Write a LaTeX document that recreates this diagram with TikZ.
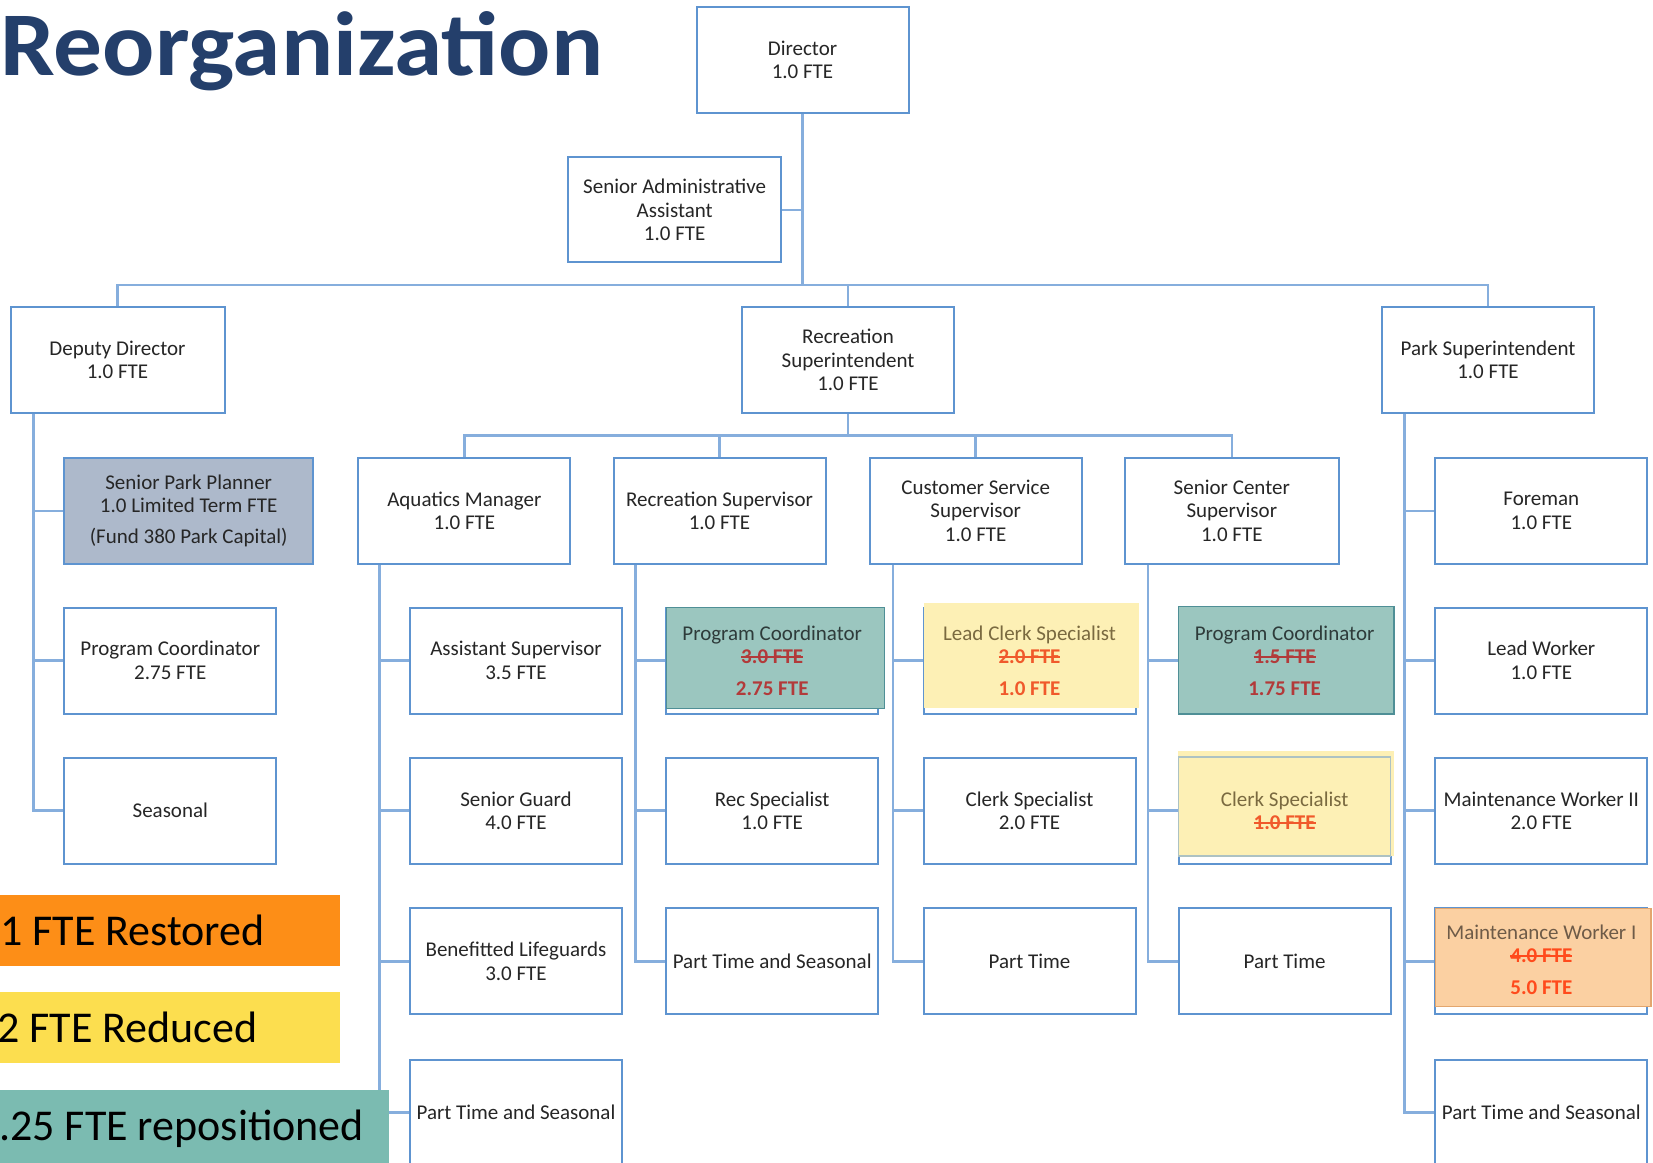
\documentclass[tikz,border=0pt]{standalone}
\usepackage{fontspec}
\setmainfont{Carlito}
\newfontfamily\titlefont[FakeStretch=1.07]{Carlito}
\usetikzlibrary{calc}
\definecolor{titlec}{HTML}{243F6B}
\definecolor{bordc}{HTML}{5E94D0}
\definecolor{connc}{HTML}{86AEDD}
\definecolor{txtc}{HTML}{262626}
\definecolor{sppfill}{HTML}{ADB9CB}
\definecolor{tealfill}{HTML}{9BC6BF}
\definecolor{tealbord}{HTML}{4F8F96}
\definecolor{tealtxt}{HTML}{2E3B3A}
\definecolor{tealred}{HTML}{B23A3A}
\definecolor{yelfill}{HTML}{FDF0B5}
\definecolor{yeltxt}{HTML}{7A6A40}
\definecolor{yelred}{HTML}{F0592B}
\definecolor{orfill}{HTML}{FBD0A2}
\definecolor{orbord}{HTML}{E3A66E}
\definecolor{ortxt}{HTML}{6E5B48}
\definecolor{orred}{HTML}{FF4A1C}
\definecolor{legor}{HTML}{FD8E17}
\definecolor{legyel}{HTML}{FCDE4F}
\definecolor{legteal}{HTML}{7BBBB1}
\newcommand\strk[1]{\setbox0=\hbox{#1}\leavevmode\rlap{\vrule height 0.36em depth -0.27em width \wd0}\box0}
\newcommand\boxfont{\fontsize{21}{23.5}\selectfont}
\pgfdeclarelayer{bg}
\pgfsetlayers{bg,main}
\tikzset{
  box/.style={draw=bordc, line width=2pt, fill=white, minimum width=212pt, minimum height=106pt,
    inner sep=0pt, align=center, text=txtc, font=\boxfont},
  lbl/.style={align=center, text=txtc, font=\boxfont, inner sep=0pt},
  conn/.style={draw=connc, line width=2.6pt},
  legbox/.style={anchor=north west, inner sep=0pt, minimum width=339.5pt, minimum height=71pt},
  legtext/.style={anchor=base west, inner sep=0pt, text=black, font=\fontsize{44}{48}\selectfont},
}
\begin{document}
\begin{tikzpicture}[x=1pt,y=-1pt]
\useasboundingbox (0,0) rectangle (1653,1162);
\clip (0,0) rectangle (1653,1162);

% title
\node[anchor=base west, inner sep=0pt, text=titlec, font=\titlefont\fontsize{91}{91}\selectfont\bfseries] (title) at (0,75) {Reorganization};

% top level
\node[box] (dir) at (802.5,60.1) {Director\\1.0 FTE};
\node[box, minimum width=213pt, minimum height=105pt] (saa) at (674.7,209.8) {Senior Administrative\\Assistant\\1.0 FTE};
\node[box, minimum width=214pt] (dd) at (117.5,360) {Deputy Director\\1.0 FTE};
\node[box] (rs) at (848,360) {Recreation\\Superintendent\\1.0 FTE};
\node[box] (ps) at (1488,360) {Park Superintendent\\1.0 FTE};

% row 1
\node[box, fill=sppfill, minimum width=249pt] (spp) at (188.7,510.8) {Senior Park Planner\\1.0 Limited Term FTE\\[7pt](Fund 380 Park Capital)};
\node[box] (am) at (464.4,510.8) {Aquatics Manager\\1.0 FTE};
\node[box] (rsv) at (719.5,510.8) {Recreation Supervisor\\1.0 FTE};
\node[box] (css) at (975.7,510.8) {Customer Service\\Supervisor\\1.0 FTE};
\node[box, minimum width=214pt] (scs) at (1231.8,510.8) {Senior Center\\Supervisor\\1.0 FTE};
\node[box] (fm) at (1541.3,510.8) {Foreman\\1.0 FTE};

% row 2
\node[box] (pcd) at (170.3,660.5) {Program Coordinator\\2.75 FTE};
\node[box] (asup) at (516,660.5) {Assistant Supervisor\\3.5 FTE};
\node[box] (pcr) at (772.2,660.5) {};
\node[box] (lcs) at (1029.5,660.5) {};
\node[box] (pcs) at (1284.6,660.5) {};
\node[box] (lw) at (1541.3,660.5) {Lead Worker\\1.0 FTE};

% row 3
\node[box] (seas) at (170.3,810.7) {Seasonal};
\node[box] (sg) at (516,810.7) {Senior Guard\\4.0 FTE};
\node[box] (rsp) at (772.2,810.7) {Rec Specialist\\1.0 FTE};
\node[box] (cls) at (1029.5,810.7) {Clerk Specialist\\2.0 FTE};
\node[box] (cls2) at (1284.6,810.7) {};
\node[box] (mw2) at (1541.3,810.7) {Maintenance Worker II\\2.0 FTE};

% row 4
\node[box] (bl) at (516,961.4) {Benefitted Lifeguards\\3.0 FTE};
\node[box] (ptr) at (772.2,961.4) {Part Time and Seasonal};
\node[box] (ptc) at (1029.5,961.4) {Part Time};
\node[box] (pts) at (1284.6,961.4) {Part Time};
\node[box] (mw1) at (1541.3,961.4) {};

% row 5
\node[box] (pta) at (516,1112.5) {Part Time and Seasonal};
\node[box] (ptp) at (1541.3,1112.5) {Part Time and Seasonal};

% highlight overlays
\fill[tealfill, draw=tealbord, line width=1.2pt] (666.3,607.2) rectangle (884.5,708.4);
\node[lbl] (pcrt) at (pcr) {{\color{tealtxt}Program Coordinator}\\{\color{tealred}\bfseries\strk{3.0 FTE}}\\[8pt]{\color{tealred}\bfseries 2.75 FTE}};
\fill[yelfill] (923.5,603) rectangle (1138.5,708.4);
\node[lbl] (lcst) at (lcs) {{\color{yeltxt}Lead Clerk Specialist}\\{\color{yelred}\bfseries\strk{2.0 FTE}}\\[8pt]{\color{yelred}\bfseries 1.0 FTE}};
\fill[tealfill, draw=tealbord, line width=1.6pt] (1178.6,606.5) rectangle (1393.7,713.7);
\node[lbl] (pcst) at (pcs) {{\color{tealtxt}Program Coordinator}\\{\color{tealred}\bfseries\strk{1.5 FTE}}\\[8pt]{\color{tealred}\bfseries 1.75 FTE}};
\fill[yelfill] (1177.5,750.6) rectangle (1393.7,856);
\draw[bordc!50!yelfill, line width=1.2pt] (1178.6,756.9) rectangle (1390.5,856);
\node[lbl] (cls2t) at (cls2) {{\color{yeltxt}Clerk Specialist}\\{\color{yelred}\bfseries\strk{1.0 FTE}}};
\fill[orfill, draw=orbord, line width=1.2pt] (1435.8,908.7) rectangle (1650.9,1006.8);
\node[lbl] (mw1t) at ($(mw1)+(0,-2)$) {{\color{ortxt}Maintenance Worker I}\\{\color{orred}\bfseries\strk{4.0 FTE}}\\[8pt]{\color{orred}\bfseries 5.0 FTE}};

% connectors
\coordinate (bus) at (0,285);
\coordinate (rbus) at (0,435.4);
\coordinate (ddv) at (33.7,413.2);
\coordinate (amv) at (379.5,564);
\coordinate (rsvv) at (635.7,564);
\coordinate (cssv) at (892.9,564);
\coordinate (scsv) at (1148,564);
\coordinate (psv) at (1404.2,413.2);
\begin{pgfonlayer}{bg}
\fill[white] (0,0) rectangle (1653,1162);
\draw[conn] (dir.south) -- (dir.south |- bus) -| (rs.north);
\draw[conn] (dd.north) |- (ps.north |- bus) -- (ps.north);
\draw[conn] (saa.east) -- (saa.east -| dir.south);
\draw[conn] (rs.south) -- (rs.south |- rbus);
\draw[conn] (am.north) |- (scs.north |- rbus) -- (scs.north);
\draw[conn] (rsv.north) -- (rsv.north |- rbus);
\draw[conn] (css.north) -- (css.north |- rbus);
\draw[conn] (ddv) |- (seas.west);
\draw[conn] (ddv) |- (spp.west);
\draw[conn] (ddv) |- (pcd.west);
\draw[conn] (amv) |- (pta.west);
\draw[conn] (amv) |- (asup.west);
\draw[conn] (amv) |- (sg.west);
\draw[conn] (amv) |- (bl.west);
\draw[conn] (rsvv) |- (ptr.west);
\draw[conn] (rsvv) |- (pcr.west);
\draw[conn] (rsvv) |- (rsp.west);
\draw[conn] (cssv) |- (ptc.west);
\draw[conn] (cssv) |- (lcs.west);
\draw[conn] (cssv) |- (cls.west);
\draw[conn] (scsv) |- (pts.west);
\draw[conn] (scsv) |- (pcs.west);
\draw[conn] (scsv) |- (cls2.west);
\draw[conn] (psv) |- (ptp.west);
\draw[conn] (psv) |- (fm.west);
\draw[conn] (psv) |- (lw.west);
\draw[conn] (psv) |- (mw2.west);
\draw[conn] (psv) |- (mw1.west);
\end{pgfonlayer}

% legend
\node[legbox, fill=legor] (lg1) at (0,895) {};
\node[legtext] (lg1t) at (0,945) {1 FTE Restored};
\node[legbox, fill=legyel] (lg2) at (0,992) {};
\node[legtext] (lg2t) at (-3,1042.3) {2 FTE Reduced};
\node[legbox, fill=legteal, minimum width=389pt, minimum height=80pt] (lg3) at (0,1090) {};
\node[legtext] (lg3t) at (-1,1140) {.25 FTE repositioned};
\end{tikzpicture}
\end{document}
